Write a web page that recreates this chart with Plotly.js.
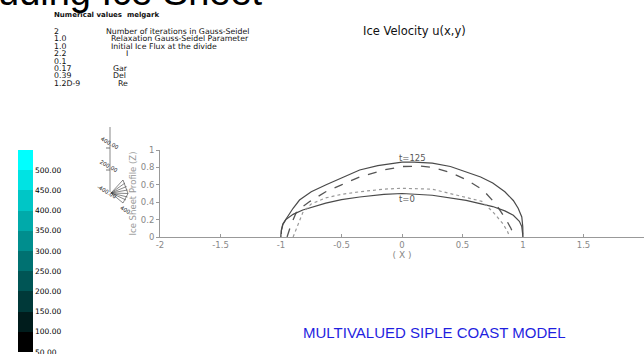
<!DOCTYPE html>
<html>
<head>
<meta charset="utf-8">
<script src="https://cdn.plot.ly/plotly-3.0.1.min.js"></script>
<style>html,body{margin:0;padding:0;background:#fff;}#chart{width:644px;height:354px;}</style>
</head>
<body>
<div id="chart"></div>
<script>
// ---- data ----
const x_t125 = [-1, -0.997, -0.985, -0.956, -0.9, -0.847, -0.75, -0.627, -0.5, -0.35, -0.2, 0, 0.1, 0.25, 0.4, 0.53, 0.65, 0.75, 0.85, 0.92, 0.96, 0.99, 0.998, 1.0];
const y_t125 = [0, 0.08, 0.15, 0.215, 0.33, 0.425, 0.52, 0.6, 0.68, 0.77, 0.82, 0.86, 0.86, 0.85, 0.81, 0.75, 0.69, 0.62, 0.52, 0.42, 0.33, 0.23, 0.12, 0];
const x_dash = [-0.95, -0.92, -0.875, -0.82, -0.76, -0.63, -0.5, -0.35, -0.15, 0, 0.15, 0.25, 0.4, 0.53, 0.67, 0.78, 0.86, 0.9, 0.93];
const y_dash = [0, 0.13, 0.28, 0.35, 0.41, 0.52, 0.6, 0.69, 0.77, 0.81, 0.815, 0.8, 0.74, 0.66, 0.54, 0.37, 0.2, 0.1, 0];
const x_t0 = [-1, -0.997, -0.985, -0.96, -0.9, -0.82, -0.63, -0.5, -0.35, -0.15, 0, 0.25, 0.53, 0.75, 0.85, 0.92, 0.97, 0.99, 1];
const y_t0 = [0, 0.07, 0.14, 0.2, 0.26, 0.31, 0.39, 0.43, 0.46, 0.49, 0.5, 0.48, 0.42, 0.35, 0.3, 0.25, 0.18, 0.12, 0];
const x_dot = [-0.9, -0.86, -0.82, -0.75, -0.63, -0.5, -0.35, -0.15, 0, 0.25, 0.53, 0.66, 0.75, 0.83, 0.87, 0.89];
const y_dot = [0, 0.15, 0.28, 0.38, 0.45, 0.49, 0.52, 0.55, 0.56, 0.55, 0.46, 0.41, 0.29, 0.16, 0.07, 0];
const curveLabels = ["t=125", "t=0"];

const xTickVals = [-2, -1.5, -1, -0.5, 0, 0.5, 1, 1.5, 2];
const xTickText = ["-2", "-1.5", "-1", "-0.5", "0", "0.5", "1", "1.5", "2"];
const yTickVals = [0, 0.2, 0.4, 0.6, 0.8, 1];
const yTickText = ["0", "0.2", "0.4", "0.6", "0.8", "1"];

const cbTickVals = [50, 100, 150, 200, 250, 300, 350, 400, 450, 500];
const cbTickText = ["50.00", "100.00", "150.00", "200.00", "250.00", "300.00", "350.00", "400.00", "450.00", "500.00"];
const cbColors = ["#000000", "#001c1c", "#003939", "#005555", "#007171", "#008e8e", "#00aaaa", "#00c6c6", "#00e3e3", "#00ffff"];

const paramValues = ["2", "1.0", "1.0", "2.2", "0.1", "0.17", "0.39", "1.2D-9"];
const paramTexts = ["Number of iterations in Gauss-Seidel", "Relaxation Gauss-Seidel Parameter", "Initial Ice Flux at the divide", "I", "", "Gar", "Del", "Re"];
const axis3dLabels = ["400.00", "200.00", "-400.00", "400"];

// ---- helpers ----
const W = 644, H = 354;
const px = x => x / W;
const py = y => 1 - y / H;
const ARIAL = "Arial, 'Liberation Sans', sans-serif";
const WIDE = "'DejaVu Sans', Verdana, sans-serif";

// discrete colorscale
const cs = [];
cbColors.forEach((c, i) => { cs.push([i / 10, c]); cs.push([(i + 1) / 10, c]); });

const lineStyle = (color, dash, width) => ({color: color, dash: dash, width: width});
const traces = [
  {x: x_t125, y: y_t125, mode: "lines", line: lineStyle("#4a4a4a", "solid", 1.2), showlegend: false, hoverinfo: "skip"},
  {x: x_dash, y: y_dash, mode: "lines", line: lineStyle("#555555", "dash", 1.3), showlegend: false, hoverinfo: "skip"},
  {x: x_t0, y: y_t0, mode: "lines", line: lineStyle("#4a4a4a", "solid", 1.2), showlegend: false, hoverinfo: "skip"},
  {x: x_dot, y: y_dot, mode: "lines", line: lineStyle("#999999", "dot", 1.2), showlegend: false, hoverinfo: "skip"},
  {x: [-5, -5], y: [0.5, 0.5], mode: "markers", showlegend: false, hoverinfo: "skip",
   marker: {color: [50, 550], cmin: 49.9, cmax: 550, colorscale: cs, showscale: true, size: 1,
     colorbar: {x: px(18), xanchor: "left", xref: "paper", yref: "paper", y: py(150), yanchor: "top",
       len: 201.5 / H, lenmode: "fraction", thickness: 15, thicknessmode: "pixels",
       xpad: 0, ypad: 0, outlinewidth: 0, borderwidth: 0, ticklabeloverflow: "allow",
       tickmode: "array", tickvals: cbTickVals, ticktext: cbTickText, ticks: "",
       tickfont: {family: WIDE, size: 7.5, color: "#000"}}}}
];

const annotations = [];
const pa = (x, y, text, font, extra) => annotations.push(Object.assign({xref: "paper", yref: "paper",
  x: px(x), y: py(y), xanchor: "left", yanchor: "middle", text: text, showarrow: false, borderpad: 0, font: font}, extra || {}));
// big cut-off slide title
pa(-3, -8, "uding Ice Sheet", {family: ARIAL, size: 38, color: "#000"}, {yanchor: "middle"});
pa(53, 15, "<b>Numerical values  melgark</b>", {family: WIDE, size: 7, color: "#111"});
const rowY = [31.5, 38.9, 46.3, 53.7, 61.1, 68.5, 75.9, 83.3];
const textX = [105, 110, 110, 125, 0, 112, 112, 117];
paramValues.forEach((v, i) => {
  pa(53, rowY[i], v, {family: WIDE, size: 7.8, color: "#111"});
  if (paramTexts[i]) pa(textX[i], rowY[i], paramTexts[i], {family: WIDE, size: 7.8, color: "#111"});
});
pa(362, 31, "Ice Velocity u(x,y)", {family: WIDE, size: 11.5, color: "#111"});
pa(434, 332, "MULTIVALUED SIPLE COAST MODEL", {family: ARIAL, size: 15, color: "#1f1fe0"}, {xanchor: "center"});
// curve labels
annotations.push({x: 0.09, y: 0.91, text: curveLabels[0], showarrow: false, borderpad: 0, font: {family: WIDE, size: 8.5, color: "#555"}});
annotations.push({x: 0.04, y: 0.44, text: curveLabels[1], showarrow: false, borderpad: 0, font: {family: WIDE, size: 8.5, color: "#555"}});
// 3D axis fragment labels
const a3x = [98, 97, 95, 118], a3y = [143, 166, 192, 210];
axis3dLabels.forEach((t, i) => annotations.push({xref: "paper", yref: "paper", x: px(a3x[i]), y: py(a3y[i]),
  text: t, textangle: 30, showarrow: false, borderpad: 0, font: {family: WIDE, size: 5.5, color: "#222"}}));

const shapes = [];
const seg = (x0, y0, x1, y1, c, w) => shapes.push({type: "line", xref: "paper", yref: "paper",
  x0: px(x0), y0: py(y0), x1: px(x1), y1: py(y1), line: {color: c || "#555", width: w || 0.8}});
seg(110, 127, 110, 192, "#888", 1);
seg(106, 148, 110, 148, "#555", 0.8);
seg(106, 170, 110, 170, "#555", 0.8);
const hatchEnds = [[123, 180], [125, 183], [126.5, 186.5], [127.5, 190], [128, 193.5], [127.5, 197], [126, 200], [123, 203]];
hatchEnds.forEach(p => seg(111, 193, p[0], p[1], "#555", 0.7));
seg(123, 180, 128, 193.5, "#555", 0.7);
seg(128, 193.5, 123, 203, "#555", 0.7);

const layout = {
  width: W, height: H,
  margin: {l: 0, r: 0, t: 0, b: 0, pad: 0},
  paper_bgcolor: "#fff", plot_bgcolor: "#fff",
  showlegend: false,
  font: {family: WIDE, size: 8, color: "#888"},
  xaxis: {domain: [px(160), 1], range: [-2, 2], tickmode: "array", tickvals: xTickVals, ticktext: xTickText,
    showgrid: false, zeroline: false, showline: true, linecolor: "#999", linewidth: 1,
    ticks: "inside", ticklen: 3, tickcolor: "#999", tickfont: {family: WIDE, size: 8.5, color: "#888"},
    title: {text: "( X )", standoff: 0, font: {family: WIDE, size: 9, color: "#888"}}, automargin: false},
  yaxis: {domain: [py(237), py(150)], range: [0, 1], tickmode: "array", tickvals: yTickVals, ticktext: yTickText,
    showgrid: false, zeroline: false, showline: true, linecolor: "#999", linewidth: 1,
    ticks: "outside", ticklen: 3, tickcolor: "#999", tickfont: {family: WIDE, size: 8.5, color: "#888"},
    title: {text: "Ice Sheet Profile (Z)", standoff: 2, font: {family: WIDE, size: 8.5, color: "#999"}}, automargin: false},
  annotations: annotations,
  shapes: shapes
};

Plotly.newPlot("chart", traces, layout, {displayModeBar: false, staticPlot: true});
</script>
</body>
</html>
